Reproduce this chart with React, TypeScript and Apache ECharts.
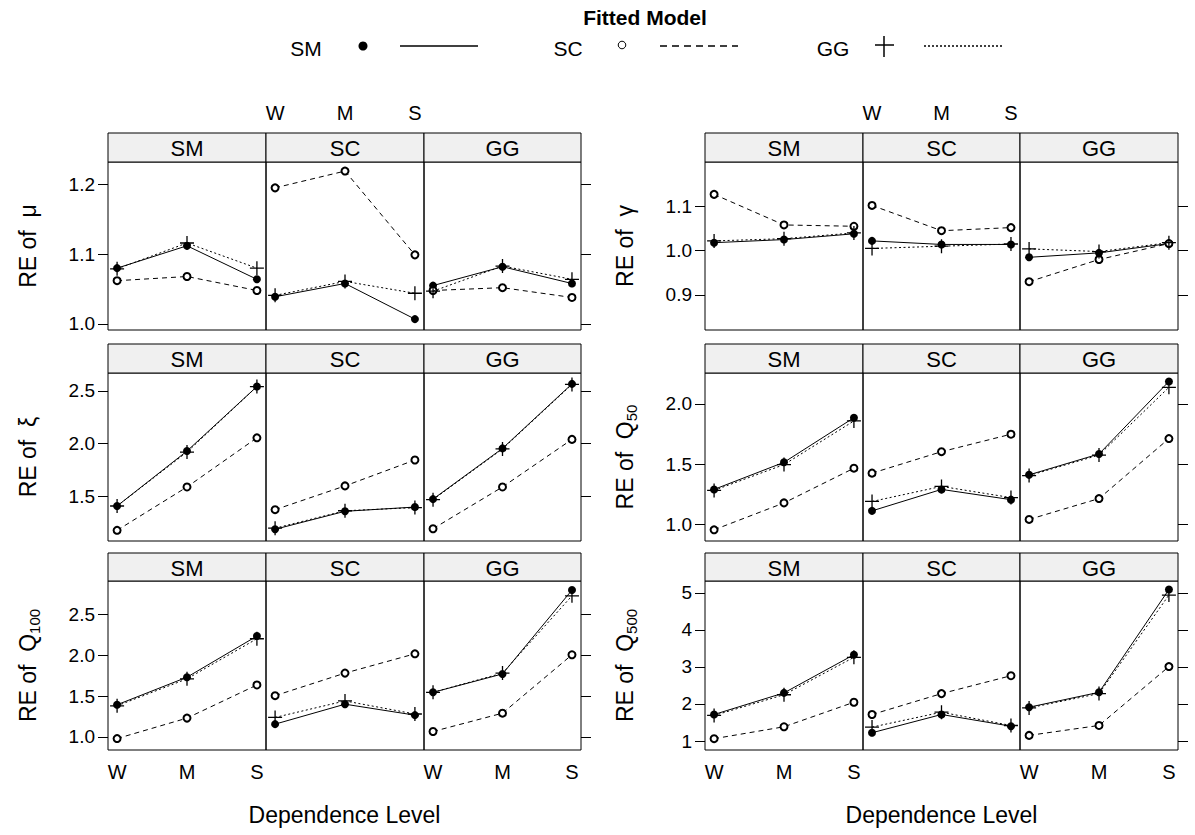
import React, { useEffect, useRef } from "react";
import * as echarts from "echarts";

const FONT = '"Liberation Sans", Arial, Helvetica, sans-serif';

const levels = ["W", "M", "S"];
const levelPos = [1, 2, 3];
const models = ["SM", "SC", "GG"]; // true-model panels and fitted models

// Each array: [fitted SM, fitted SC, fitted GG] for levels W, M, S
const muTrueSM = [[1.080, 1.112, 1.064], [1.062, 1.068, 1.048], [1.079, 1.116, 1.080]];
const muTrueSC = [[1.039, 1.058, 1.007], [1.195, 1.219, 1.099], [1.041, 1.061, 1.044]];
const muTrueGG = [[1.055, 1.082, 1.058], [1.048, 1.052, 1.038], [1.047, 1.083, 1.064]];

const gammaTrueSM = [[1.018, 1.025, 1.038], [1.127, 1.058, 1.055], [1.022, 1.027, 1.040]];
const gammaTrueSC = [[1.022, 1.014, 1.014], [1.102, 1.045, 1.052], [1.005, 1.010, 1.015]];
const gammaTrueGG = [[0.985, 0.995, 1.016], [0.930, 0.980, 1.016], [1.004, 0.998, 1.018]];

const xiTrueSM = [[1.41, 1.93, 2.54], [1.18, 1.59, 2.055], [1.41, 1.92, 2.54]];
const xiTrueSC = [[1.19, 1.36, 1.40], [1.375, 1.60, 1.845], [1.20, 1.365, 1.395]];
const xiTrueGG = [[1.475, 1.955, 2.565], [1.195, 1.59, 2.04], [1.47, 1.95, 2.56]];

const q50TrueSM = [[1.29, 1.515, 1.885], [0.955, 1.178, 1.466], [1.282, 1.496, 1.858]];
const q50TrueSC = [[1.112, 1.29, 1.205], [1.425, 1.603, 1.748], [1.19, 1.315, 1.222]];
const q50TrueGG = [[1.411, 1.584, 2.186], [1.041, 1.214, 1.712], [1.405, 1.575, 2.137]];

const q100TrueSM = [[1.393, 1.73, 2.233], [0.98, 1.23, 1.635], [1.38, 1.71, 2.20]];
const q100TrueSC = [[1.156, 1.40, 1.266], [1.504, 1.78, 2.016], [1.238, 1.44, 1.28]];
const q100TrueGG = [[1.545, 1.77, 2.795], [1.066, 1.29, 2.004], [1.545, 1.78, 2.725]];

const q500TrueSM = [[1.716, 2.30, 3.33], [1.063, 1.385, 2.047], [1.69, 2.25, 3.26]];
const q500TrueSC = [[1.224, 1.716, 1.40], [1.716, 2.28, 2.763], [1.376, 1.778, 1.42]];
const q500TrueGG = [[1.913, 2.315, 5.09], [1.152, 1.42, 3.01], [1.895, 2.28, 4.94]];

const muTicks = [1.0, 1.1, 1.2];
const gammaTicks = [0.9, 1.0, 1.1];
const xiTicks = [1.5, 2.0, 2.5];
const q50Ticks = [1.0, 1.5, 2.0];
const q100Ticks = [1.0, 1.5, 2.0, 2.5];
const q500Ticks = [1, 2, 3, 4, 5];

type Measure = {
  name: string;
  min: number;
  max: number;
  ticks: number[];
  decimals: number;
  data: number[][][];
};

const mu: Measure = { name: "{a|RE of  μ}", min: 0.9914, max: 1.232, ticks: muTicks, decimals: 1, data: [muTrueSM, muTrueSC, muTrueGG] };
const gamma: Measure = { name: "{a|RE of  γ}", min: 0.821, max: 1.2, ticks: gammaTicks, decimals: 1, data: [gammaTrueSM, gammaTrueSC, gammaTrueGG] };
const xi: Measure = { name: "{a|RE of  ξ}", min: 1.079, max: 2.668, ticks: xiTicks, decimals: 1, data: [xiTrueSM, xiTrueSC, xiTrueGG] };
const q50: Measure = { name: "{a|RE of  Q}{b|50}", min: 0.862, max: 2.256, ticks: q50Ticks, decimals: 1, data: [q50TrueSM, q50TrueSC, q50TrueGG] };
const q100: Measure = { name: "{a|RE of  Q}{b|100}", min: 0.84, max: 2.906, ticks: q100Ticks, decimals: 1, data: [q100TrueSM, q100TrueSC, q100TrueGG] };
const q500: Measure = { name: "{a|RE of  Q}{b|500}", min: 0.758, max: 5.32, ticks: q500Ticks, decimals: 0, data: [q500TrueSM, q500TrueSC, q500TrueGG] };

const panels = [
  { cols: [108, 266, 424, 581], measures: [mu, xi, q100] },
  { cols: [705, 863, 1020, 1178], measures: [gamma, q50, q500] },
];
const rows = [
  { strip: 133, top: 162, bottom: 330 },
  { strip: 344, top: 373, bottom: 541 },
  { strip: 553, top: 581, bottom: 750 },
];

const PLUS = "path://M6 0L6 12M0 6L12 6";

const seriesStyles = [
  { symbol: "circle", symbolSize: 8, lineType: "solid" as any, itemStyle: { color: "#000", borderColor: "#000", borderWidth: 0 } },
  { symbol: "emptyCircle", symbolSize: 7, lineType: [5, 4] as any, itemStyle: { color: "#000", borderColor: "#000", borderWidth: 1 } },
  { symbol: PLUS, symbolSize: 14, lineType: [2, 2.5] as any, itemStyle: { color: "#000", borderColor: "#000", borderWidth: 1.3 } },
];

function buildOption() {
  const grid: any[] = [];
  const xAxis: any[] = [];
  const yAxis: any[] = [];
  const series: any[] = [];
  const graphic: any[] = [];

  panels.forEach((panel, p) => {
    panel.measures.forEach((m, r) => {
      const row = rows[r];
      for (let c = 0; c < 3; c++) {
        const idx = grid.length;
        const x0 = panel.cols[c];
        const x1 = panel.cols[c + 1];
        grid.push({
          left: x0,
          top: row.top,
          width: x1 - x0,
          height: row.bottom - row.top,
          show: true,
          borderColor: "#000",
          borderWidth: 1,
          backgroundColor: "transparent",
          containLabel: false,
          outerBoundsMode: "none",
        });
        const topLabels = r === 0 && c === 1;
        const bottomLabels = r === 2 && (c === 0 || c === 2);
        xAxis.push({
          gridIndex: idx,
          type: "value",
          min: 0.87,
          max: 3.13,
          position: topLabels ? "top" : "bottom",
          axisLine: { show: false },
          axisTick: { show: false },
          splitLine: { show: false },
          axisLabel: {
            show: topLabels || bottomLabels,
            customValues: levelPos,
            formatter: (v: number) => levels[Math.round(v) - 1],
            fontSize: 20,
            color: "#000",
            fontFamily: FONT,
            margin: topLabels ? 39 : 12,
          },
        });
        yAxis.push({
          gridIndex: idx,
          type: "value",
          min: m.min,
          max: m.max,
          position: c === 2 ? "right" : "left",
          axisLine: { show: false },
          axisTick: {
            show: c !== 1,
            length: 10,
            inside: false,
            customValues: m.ticks,
            lineStyle: { color: "#000", width: 1 },
          },
          axisLabel: {
            show: c === 0,
            customValues: m.ticks,
            formatter: (v: number) => v.toFixed(m.decimals),
            margin: 13,
            fontSize: 19,
            color: "#000",
            fontFamily: FONT,
          },
          splitLine: { show: false },
          name: c === 0 ? m.name : "",
          nameLocation: "middle",
          nameRotate: 90,
          nameGap: 66,
          nameTextStyle: {
            color: "#000",
            fontFamily: FONT,
            rich: {
              a: { fontSize: 23, fontFamily: FONT, color: "#000", lineHeight: 28 },
              b: { fontSize: 15, fontFamily: FONT, color: "#000", lineHeight: 15, verticalAlign: "bottom" },
            },
          },
        });
        m.data[c].forEach((vals, s) => {
          const st = seriesStyles[s];
          series.push({
            type: "line",
            name: models[s],
            xAxisIndex: idx,
            yAxisIndex: idx,
            data: levelPos.map((x, i) => [x, vals[i]]),
            symbol: st.symbol,
            symbolSize: st.symbolSize,
            showAllSymbol: true,
            lineStyle: { color: "#000", width: 1, type: st.lineType },
            itemStyle: st.itemStyle,
            emphasis: { disabled: true },
            z: 2 + s,
          });
        });
        // strip header
        graphic.push({
          type: "rect",
          shape: { x: x0, y: row.strip, width: x1 - x0, height: row.top - row.strip },
          style: { fill: "#f0f0f0", stroke: "#000", lineWidth: 1 },
          z: 10,
        });
        graphic.push({
          type: "text",
          x: (x0 + x1) / 2,
          y: (row.strip + row.top) / 2 + 1,
          style: {
            text: models[c],
            fontSize: 22,
            fontFamily: FONT,
            fill: "#000",
            align: "center",
            verticalAlign: "middle",
            textAlign: "center",
            textVerticalAlign: "middle",
          },
          z: 11,
        });
      }
    });
    graphic.push({
      type: "text",
      x: (panel.cols[0] + panel.cols[3]) / 2,
      y: 815,
      style: {
        text: "Dependence Level",
        fontSize: 23,
        fontFamily: FONT,
        fill: "#000",
        align: "center",
        verticalAlign: "middle",
        textAlign: "center",
        textVerticalAlign: "middle",
      },
    });
  });

  // legend
  const txt = (text: string, x: number, y: number, size: number, bold = false) => ({
    type: "text",
    x,
    y,
    style: {
      text,
      fontSize: size,
      fontWeight: bold ? "bold" : "normal",
      fontFamily: FONT,
      fill: "#000",
      align: "center",
      verticalAlign: "middle",
      textAlign: "center",
      textVerticalAlign: "middle",
    },
  });
  const LY = 48;
  graphic.push(txt("Fitted Model", 645, 17, 21, true));
  graphic.push(txt("SM", 306, LY, 21));
  graphic.push({ type: "circle", shape: { cx: 363, cy: LY - 2, r: 4.5 }, style: { fill: "#000" } });
  graphic.push({ type: "line", shape: { x1: 400, y1: LY - 2, x2: 478, y2: LY - 2 }, style: { stroke: "#000", lineWidth: 1.5 } });
  graphic.push(txt("SC", 568, LY, 21));
  graphic.push({ type: "circle", shape: { cx: 622, cy: LY - 3, r: 3.8 }, style: { fill: "#fff", stroke: "#000", lineWidth: 1 } });
  graphic.push({ type: "line", shape: { x1: 660, y1: LY - 2, x2: 738, y2: LY - 2 }, style: { stroke: "#000", lineWidth: 1.5, lineDash: [7, 5] } });
  graphic.push(txt("GG", 833, LY, 21));
  graphic.push({ type: "line", shape: { x1: 884, y1: LY - 12, x2: 884, y2: LY + 9 }, style: { stroke: "#000", lineWidth: 1.5 } });
  graphic.push({ type: "line", shape: { x1: 875, y1: LY - 3, x2: 894, y2: LY - 3 }, style: { stroke: "#000", lineWidth: 1.5 } });
  graphic.push({ type: "line", shape: { x1: 924, y1: LY - 2, x2: 1003, y2: LY - 2 }, style: { stroke: "#000", lineWidth: 1.5, lineDash: [2, 2] } });

  return {
    animation: false,
    backgroundColor: "#fff",
    textStyle: { fontFamily: FONT },
    grid,
    xAxis,
    yAxis,
    series,
    graphic: { elements: graphic },
  };
}

export default function App() {
  const ref = useRef<HTMLDivElement>(null);
  useEffect(() => {
    if (!ref.current) return;
    const chart = echarts.init(ref.current, undefined, { renderer: "svg" });
    chart.setOption(buildOption() as any);
    return () => chart.dispose();
  }, []);
  return (
    <div
      ref={ref}
      style={{ position: "fixed", left: 0, top: 0, width: 1195, height: 835, background: "#fff" }}
    />
  );
}
